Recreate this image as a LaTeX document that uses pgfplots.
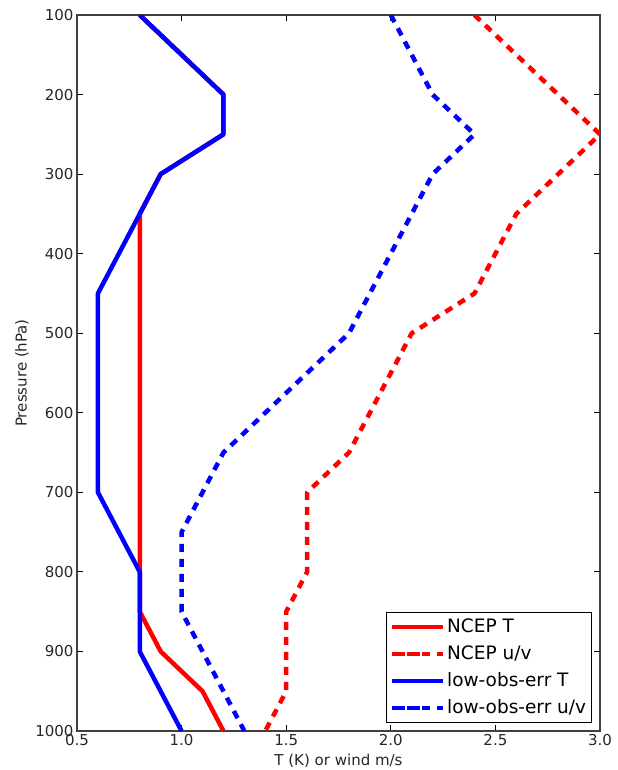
\documentclass[border=0pt]{standalone}
\usepackage{pgfplots}
\pgfplotsset{compat=1.18}
\usepackage{fontspec}
\setmainfont{DejaVu Sans}

\pgfplotstableread{
x y
0.8 100
1.0 150
1.2 200
1.2 250
0.9 300
0.8 350
0.8 400
0.8 450
0.8 500
0.8 550
0.8 600
0.8 650
0.8 700
0.8 750
0.8 800
0.8 850
0.9 900
1.1 950
1.2 1000
}\ncepT

\pgfplotstableread{
x y
2.4 100
2.6 150
2.8 200
3.0 250
2.8 300
2.6 350
2.5 400
2.4 450
2.1 500
2.0 550
1.9 600
1.8 650
1.6 700
1.6 750
1.6 800
1.5 850
1.5 900
1.5 950
1.4 1000
}\ncepUV

\pgfplotstableread{
x y
0.8 100
1.0 150
1.2 200
1.2 250
0.9 300
0.8 350
0.7 400
0.6 450
0.6 500
0.6 550
0.6 600
0.6 650
0.6 700
0.7 750
0.8 800
0.8 850
0.8 900
0.9 950
1.0 1000
}\lowT

\pgfplotstableread{
x y
2.0 100
2.1 150
2.2 200
2.4 250
2.2 300
2.1 350
2.0 400
1.9 450
1.8 500
1.6 550
1.4 600
1.2 650
1.1 700
1.0 750
1.0 800
1.0 850
1.1 900
1.2 950
1.3 1000
}\lowUV

\begin{document}
\begin{tikzpicture}
\begin{axis}[
  scale only axis, width=523bp, height=716bp,
  xmin=0.5, xmax=3.0, ymin=100, ymax=1000, y dir=reverse,
  xtick={0.5,1,1.5,2,2.5,3}, ytick={100,200,300,400,500,600,700,800,900,1000},
  /pgf/number format/assume math mode=true,
  xticklabel style={/pgf/number format/.cd, fixed, fixed zerofill, precision=1},
  yticklabel style={/pgf/number format/.cd, fixed, 1000 sep={}},
  tick label style={font=\fontsize{15bp}{18bp}\selectfont, black!85},
  label style={font=\fontsize{15bp}{18bp}\selectfont, black!85},
  xlabel={T (K) or wind m/s}, ylabel={Pressure (hPa)},
  xlabel style={at={(axis description cs:0.5,-0.0475)}, anchor=base},
  ylabel style={at={(axis description cs:-0.1052,0.5)}, anchor=center},
  tick align=inside, major tick length=6bp,
  every tick/.style={black, line width=0.8bp},
  axis line style={black!75, line width=1.2bp},
  legend style={at={(axis description cs:0.985,0.011)}, anchor=south east,
    font=\fontsize{18.5bp}{20bp}\selectfont, draw=black, line width=1bp,
    inner sep=3.5bp, row sep=5bp,
    nodes={inner sep=2bp, text height=14bp, text depth=4bp}},
  legend cell align=left,
  legend image code/.code={\path (-5bp,0bp) -- (46bp,0bp);\draw[#1, line width=4bp] (0bp,0bp) -- (31bp,0bp);},
  every axis plot/.append style={line join=round},
]
\addplot[red, line width=4.5bp] table[x=x,y=y] {\ncepT};
\addlegendentry{NCEP T}
\addplot[red, line width=4.5bp, dash pattern=on 8bp off 7bp] table[x=x,y=y] {\ncepUV};
\addlegendentry{NCEP u/v}
\addplot[blue, line width=4.5bp] table[x=x,y=y] {\lowT};
\addlegendentry{low-obs-err T}
\addplot[blue, line width=4.5bp, dash pattern=on 8bp off 7bp] table[x=x,y=y] {\lowUV};
\addlegendentry{low-obs-err u/v}
\coordinate (bl) at (axis description cs:0,0);
\coordinate (tr) at (axis description cs:1,1);
\end{axis}
\pgfresetboundingbox
\path[use as bounding box] ([xshift=-77bp,yshift=-39bp]bl) rectangle ([xshift=18bp,yshift=15bp]tr);
\end{tikzpicture}
\end{document}
